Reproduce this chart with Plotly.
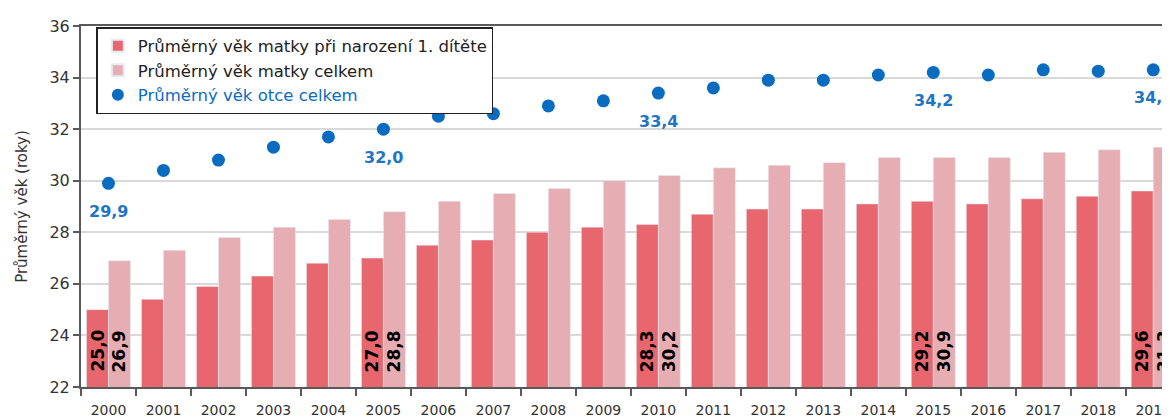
import plotly.graph_objects as go

years = [str(y) for y in range(2000, 2020)]
mother_first = [25.0, 25.4, 25.9, 26.3, 26.8, 27.0, 27.5, 27.7, 28.0, 28.2,
                28.3, 28.7, 28.9, 28.9, 29.1, 29.2, 29.1, 29.3, 29.4, 29.6]
mother_all = [26.9, 27.3, 27.8, 28.2, 28.5, 28.8, 29.2, 29.5, 29.7, 30.0,
              30.2, 30.5, 30.6, 30.7, 30.9, 30.9, 30.9, 31.1, 31.2, 31.3]
father_all = [29.9, 30.4, 30.8, 31.3, 31.7, 32.0, 32.5, 32.6, 32.9, 33.1,
              33.4, 33.6, 33.9, 33.9, 34.1, 34.2, 34.1, 34.3, 34.25, 34.3]
labelled_years = ["2000", "2005", "2010", "2015", "2019"]

series_names = ["Průměrný věk matky při narození 1. dítěte",
                "Průměrný věk matky celkem",
                "Průměrný věk otce celkem"]
y_title = "Průměrný věk (roky)"

RED = "#E8676F"
PINK = "#E6ADB2"
BLUE = "#0A6CC0"
FONT = "DejaVu Sans"


def fmt(v):
    return f"{v:.1f}".replace(".", ",")


fig = go.Figure()
fig.add_trace(go.Bar(x=years, y=mother_first, name=series_names[0], marker_color=RED,
                     legendgroup="a"))
fig.add_trace(go.Bar(x=years, y=mother_all, name=series_names[1], marker_color=PINK,
                     legendgroup="b"))
fig.add_trace(go.Scatter(
    x=years, y=father_all, mode="markers", legendgroup="c",
    name=f"<span style='color:{BLUE}'>{series_names[2]}</span>",
    marker=dict(color=BLUE, size=13),
))

for i, y in enumerate(years):
    if y not in labelled_years:
        continue
    # father label below dot
    fig.add_annotation(x=i, y=father_all[i], text=fmt(father_all[i]), showarrow=False,
                       yshift=-28, yanchor="middle",
                       font=dict(family=FONT, size=16, color="#1F74C4", weight="bold"))
    # bar labels, vertical at bar base
    for off, vals in ((-0.2, mother_first), (0.2, mother_all)):
        fig.add_annotation(x=i + off, y=22, text=fmt(vals[i]), showarrow=False,
                           textangle=-90, yanchor="bottom", xanchor="center", yshift=13,
                           font=dict(family=FONT, size=17, color="black", weight="bold"))

fig.update_layout(
    width=1170, height=419,
    margin=dict(l=73, r=0, t=18, b=40),
    paper_bgcolor="white", plot_bgcolor="white",
    barmode="group", bargap=0.2, bargroupgap=0,
    font=dict(family=FONT, size=14, color="#333333"),
    showlegend=True,
    legend=dict(x=0.014, y=0.997, xanchor="left", yanchor="top",
                bgcolor="white", bordercolor="#222222", borderwidth=1.5,
                font=dict(family=FONT, size=16.5, color="#222222"),
                itemwidth=30, tracegroupgap=0, itemsizing="constant"),
)
fig.update_xaxes(
    type="category", range=[-0.5, 19.45],
    showline=True, linecolor="#595959", linewidth=2, mirror=True,
    ticks="outside", tickson="boundaries", ticklen=7, tickcolor="#595959", tickwidth=2,
    tickfont=dict(family=FONT, size=14, color="#333333"), ticklabelstandoff=9,
    showgrid=False,
)
fig.update_yaxes(
    range=[22, 36], dtick=2, tick0=22,
    showline=True, linecolor="#595959", linewidth=2,
    ticks="outside", ticklen=6, tickcolor="#595959", tickwidth=2,
    tickfont=dict(family=FONT, size=16, color="#333333"),
    showgrid=True, gridcolor="#D9D9D9", gridwidth=1.5,
    title=dict(text=y_title, font=dict(family=FONT, size=15, color="#333333"), standoff=18),
)

fig.write_html("out.html")
